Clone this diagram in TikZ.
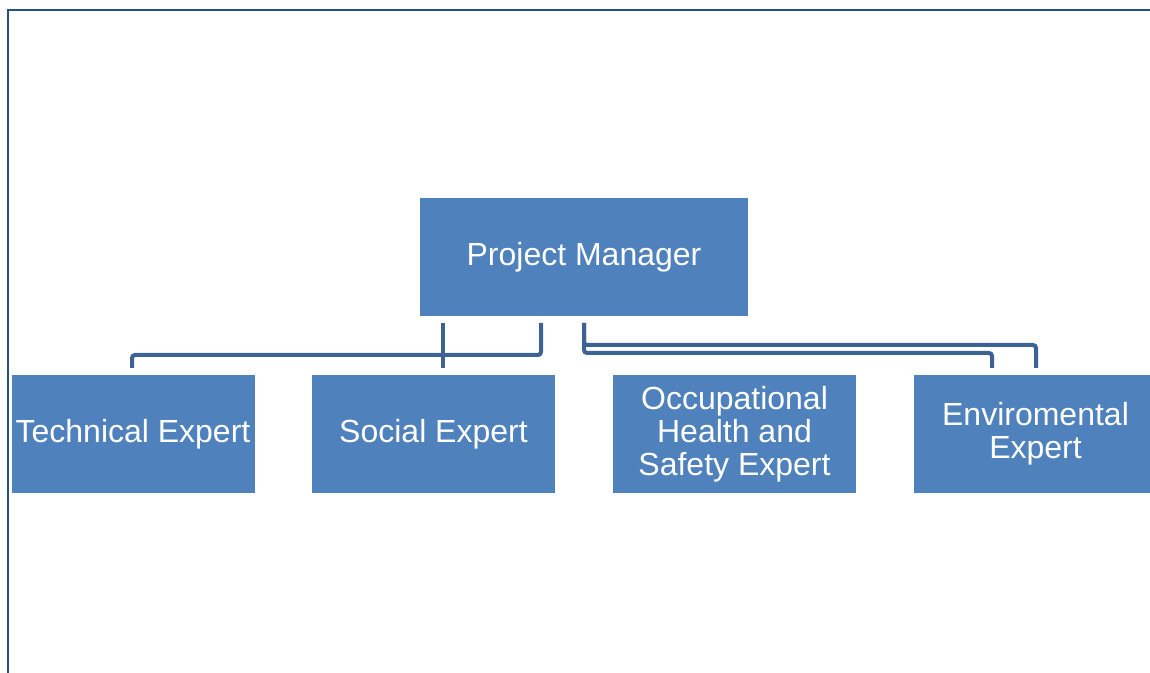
\documentclass[tikz,border=0pt]{standalone}
\usepackage{fontspec}
\setmainfont{Liberation Sans}
\usepackage{xcolor}
\definecolor{boxblue}{HTML}{4F81BD}
\definecolor{linkblue}{HTML}{3C6394}
\definecolor{frameblue}{HTML}{264F85}
\tikzset{
  orgbox/.style={fill=boxblue, text=white, minimum width=121.5pt, minimum height=59pt,
    align=center, inner sep=1pt, font=\fontsize{16}{16.5}\selectfont},
  link/.style={draw=linkblue, line width=2pt, rounded corners=1.5pt}
}

\begin{document}
\begin{tikzpicture}[x=0.5pt, y=-0.5pt]
\useasboundingbox (0,0) rectangle (1150,673);
\clip (0,0) rectangle (1150,673);
\draw[frameblue, line width=1.2pt] (1160,10) -- (8,10) -- (8,680);

\node[orgbox, minimum width=164pt] (pm) at (584,257) {Project Manager};
\node[orgbox] (tech) at (133,434) {Technical Expert};
\node[orgbox] (soc) at (433.5,434) {Social Expert};
\node[orgbox] (ohs) at (734.5,434) {Occupational\\Health and\\Safety Expert};
\node[orgbox] (env) at (1035.5,434) {Enviromental\\Expert};

% connector ends under the manager
\coordinate (pmA) at (443,323);
\coordinate (pmB) at (541,323);
\coordinate (pmC) at (584,323);
\coordinate (tTop) at (132,368);
\coordinate (sTop) at (443,368);
\coordinate (eTopA) at (992,368);
\coordinate (eTopB) at (1036,368);

\draw[link] (pmA) -- (sTop);
\draw[link] (pmB) |- (tTop |- 0,355) -- (tTop);
\draw[link] (pmC) |- (eTopA |- 0,353) -- (eTopA);
\draw[link] (pmC) |- (eTopB |- 0,345) -- (eTopB);
\end{tikzpicture}
\end{document}
